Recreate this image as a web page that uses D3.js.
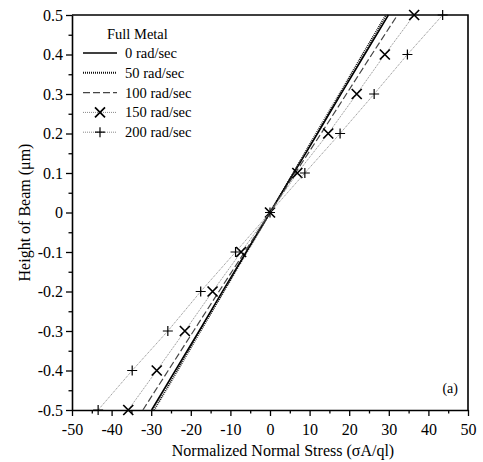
<!DOCTYPE html>
<html>
<head>
<meta charset="utf-8">
<script src="https://cdn.jsdelivr.net/npm/d3@7"></script>
<style>
  body { margin: 0; background: #fff; }
</style>
</head>
<body>
<div id="chart"></div>
<script>
// heights along the beam (y) and normalized stress for each speed (x)
var heights = [-0.5, -0.4, -0.3, -0.2, -0.1, 0, 0.1, 0.2, 0.3, 0.4, 0.5];
var stress0   = [-29.9, -23.9, -17.9, -12.0, -6.0, 0, 6.0, 12.0, 17.9, 23.9, 29.9];
var stress50  = [-29.3, -23.4, -17.6, -11.7, -5.9, 0, 5.9, 11.7, 17.6, 23.4, 29.3];
var stress100 = [-32.1, -25.7, -19.3, -12.9, -6.4, 0, 6.4, 12.9, 19.3, 25.7, 32.2];
var stress150 = [-35.8, -28.6, -21.5, -14.5, -7.3, 0, 6.9, 14.7, 21.9, 29.0, 36.4];
var stress200 = [-43.4, -34.8, -25.8, -17.5, -8.7, 0, 8.8, 17.7, 26.3, 34.7, 43.6];
var seriesNames = ["0 rad/sec", "50 rad/sec", "100 rad/sec", "150 rad/sec", "200 rad/sec"];
var xTicks = [-50, -40, -30, -20, -10, 0, 10, 20, 30, 40, 50];
var yTicks = [-0.5, -0.4, -0.3, -0.2, -0.1, 0, 0.1, 0.2, 0.3, 0.4, 0.5];

var FONT = "'Liberation Serif', 'Times New Roman', Times, serif";
var svgWidth = 483, svgHeight = 462;
var plot = { left: 72, right: 468, top: 15, bottom: 410 };

var svg = d3.select("#chart").append("svg")
  .attr("width", svgWidth)
  .attr("height", svgHeight)
  .attr("font-family", FONT);

var x = d3.scaleLinear().domain([-50, 50]).range([plot.left, plot.right]);
var y = d3.scaleLinear().domain([-0.5, 0.5]).range([plot.bottom, plot.top]);

// styles per series
var styles = [
  { stroke: "#000", width: 1.5, dash: null, marker: null },
  { stroke: "#111", width: 2, dash: "1,1", marker: null },
  { stroke: "#444", width: 1.2, dash: "7,3", marker: null },
  { stroke: "#888", width: 1, dash: "1,1", marker: "x" },
  { stroke: "#888", width: 1, dash: "1,1", marker: "+" }
];
var allStress = [stress0, stress50, stress100, stress150, stress200];

//minor ticks first, then major on top
var xMinor = d3.range(-45, 50, 10);
var yMinor = d3.range(-0.45, 0.5, 0.1);

svg.append("g")
  .attr("transform", `translate(0, ${plot.bottom})`)
  .call(d3.axisBottom(x).tickValues(xMinor).tickSize(3.5).tickSizeOuter(0).tickFormat(""))
  .call(g => g.select(".domain").remove());

svg.append("g")
  .attr("transform", `translate(${plot.left}, 0)`)
  .call(d3.axisLeft(y).tickValues(yMinor).tickSize(3.5).tickSizeOuter(0).tickFormat(""))
  .call(g => g.select(".domain").remove());

var xAxis = svg.append("g")
  .attr("transform", `translate(0, ${plot.bottom})`)
  .call(d3.axisBottom(x).tickValues(xTicks).tickSize(6).tickSizeOuter(0)
    .tickPadding(8).tickFormat(d => String(d)));

var yAxis = svg.append("g")
  .attr("transform", `translate(${plot.left}, 0)`)
  .call(d3.axisLeft(y).tickValues(yTicks).tickSize(6).tickSizeOuter(0)
    .tickPadding(3).tickFormat(d => Math.abs(d) < 1e-9 ? "0" : d.toFixed(1)));

svg.selectAll("g").attr("font-family", FONT);
svg.selectAll(".tick line").attr("stroke", "#000").attr("stroke-width", 1.3);
svg.selectAll(".domain").attr("stroke", "#000").attr("stroke-width", 1.6);
svg.selectAll(".tick text").attr("font-size", 16).attr("fill", "#000");

// top and right frame
svg.append("path")
  .attr("d", `M${plot.left},${plot.top}H${plot.right}V${plot.bottom}`)
  .attr("fill", "none")
  .attr("stroke", "#000")
  .attr("stroke-width", 1.6);

// axis titles
svg.append("text")
  .attr("x", 283)
  .attr("y", 456)
  .attr("text-anchor", "middle")
  .attr("font-size", 16)
  .text("Normalized Normal Stress (σA/ql)");

svg.append("text")
  .attr("transform", `translate(30, ${(plot.top + plot.bottom) / 2}) rotate(-90)`)
  .attr("text-anchor", "middle")
  .attr("font-size", 16)
  .text("Height of Beam (μm)");

// the lines
var line = d3.line()
  .x(d => x(d[0]))
  .y(d => y(d[1]));

function drawMarker(g, type, cx, cy) {
  if (type === "x") {
    var s = 5;
    g.append("path")
      .attr("d", `M${cx - s},${cy - s}L${cx + s},${cy + s}M${cx - s},${cy + s}L${cx + s},${cy - s}`)
      .attr("stroke", "#000").attr("stroke-width", 1.7).attr("fill", "none");
  } else if (type === "+") {
    var s = 5;
    g.append("path")
      .attr("d", `M${cx - s},${cy}L${cx + s},${cy}M${cx},${cy - s}L${cx},${cy + s}`)
      .attr("stroke", "#000").attr("stroke-width", 1.2).attr("fill", "none");
  }
}

var linesGroup = svg.append("g");
allStress.forEach(function(vals, i) {
  var pts = vals.map((v, j) => [v, heights[j]]);
  var st = styles[i];
  linesGroup.append("path")
    .datum(pts)
    .attr("d", line)
    .attr("fill", "none")
    .attr("stroke", st.stroke)
    .attr("stroke-width", st.width)
    .attr("stroke-dasharray", st.dash);
  if (st.marker) {
    pts.forEach(p => drawMarker(linesGroup, st.marker, x(p[0]), y(p[1])));
  }
});

// legend
var legend = svg.append("g");
legend.append("text")
  .attr("x", 107)
  .attr("y", 39)
  .attr("font-size", 14.5)
  .text("Full Metal");

seriesNames.forEach(function(name, i) {
  var ly = 53 + i * 19.8;
  var st = styles[i];
  legend.append("line")
    .attr("x1", 83).attr("x2", 117)
    .attr("y1", ly).attr("y2", ly)
    .attr("stroke", st.stroke)
    .attr("stroke-width", st.width)
    .attr("stroke-dasharray", st.dash);
  if (st.marker) drawMarker(legend, st.marker, 100, ly);
  legend.append("text")
    .attr("x", 125)
    .attr("y", ly + 5)
    .attr("font-size", 14.5)
    .text(name);
});

svg.append("text")
  .attr("x", 458)
  .attr("y", 393)
  .attr("text-anchor", "end")
  .attr("font-size", 14)
  .text("(a)");
</script>
</body>
</html>
